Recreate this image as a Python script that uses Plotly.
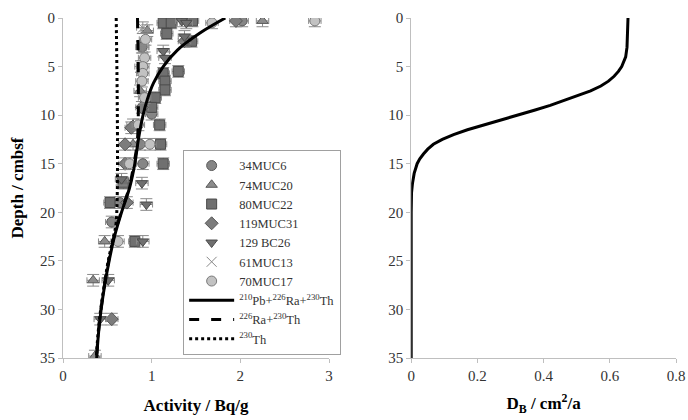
import plotly.graph_objects as go

# ---------------- data ----------------
# measured activities (Bq/g) vs depth (cm)
muc6_depth = [0.3, 3.0, 9.9, 13.0, 15.0, 19.0, 21.0]
muc6_act = [2.02, 0.89, 1.00, 0.87, 0.90, 0.64, 0.55]

muc20_depth = [0.3, 0.5, 1.3, 7.5, 11.0, 13.0, 23.0, 27.0, 34.8]
muc20_act = [2.25, 1.17, 0.95, 0.87, 0.79, 0.79, 0.47, 0.34, 0.36]

muc22_depth = [0.5, 0.5, 0.3, 1.6, 2.4, 5.5, 5.7, 6.5, 7.4, 8.2, 9.2, 11.0, 13.0, 15.0, 17.0, 19.0, 23.0]
muc22_act = [1.13, 1.22, 1.46, 1.17, 1.45, 1.30, 1.13, 1.15, 1.15, 1.04, 1.00, 1.09, 1.10, 1.13, 0.68, 0.53, 0.81]

muc31_depth = [0.3, 2.4, 9.2, 11.3, 13.0, 15.0, 19.0, 31.0]
muc31_act = [1.95, 1.37, 0.89, 0.77, 0.70, 0.70, 0.72, 0.55]

bc26_depth = [0.3, 0.5, 1.9, 3.4, 4.1, 16.6, 17.0, 19.2, 23.0, 27.0, 31.0]
bc26_act = [1.34, 1.39, 1.37, 1.13, 1.15, 0.66, 0.89, 0.94, 0.90, 0.51, 0.42]

muc13_depth = [1.0, 3.0, 5.0]
muc13_act = [0.90, 0.90, 0.88]

muc17_depth = [0.3, 0.5, 2.2, 4.1, 5.0, 5.7, 6.5, 8.2, 11.0, 13.0, 15.0, 23.0]
muc17_act = [2.84, 1.68, 0.93, 0.92, 0.90, 0.90, 0.89, 0.92, 0.85, 0.98, 0.75, 0.62]

# model curves
model_depth = [0, 1.57, 3.3, 5.0, 6.7, 8.4, 10.1, 12.5, 15, 17.5, 20, 22.5, 25, 27.5, 30, 32.5, 35]
total_act = [1.83, 1.54, 1.29, 1.13, 1.02, 0.95, 0.90, 0.85, 0.81, 0.75, 0.66, 0.58, 0.52, 0.47, 0.43, 0.40, 0.38]
ra_th_depth = [0, 12.5, 15, 17.5, 20, 22.5, 25, 27.5, 30, 32.5, 35]
ra_th_act = [0.84, 0.84, 0.80, 0.745, 0.655, 0.575, 0.515, 0.468, 0.428, 0.398, 0.378]
th_depth = [0, 21, 22.5, 25, 27.5, 30, 32.5, 35]
th_act = [0.6, 0.6, 0.57, 0.51, 0.465, 0.425, 0.395, 0.375]

# bioturbation coefficient profile
db_depth = [0, 2, 3, 4, 4.5, 5, 5.5, 6, 6.5, 7, 7.5, 8, 8.5, 9, 9.5, 10, 10.5, 11, 11.5, 12, 12.5,
            13, 13.5, 14, 14.5, 15, 16, 17, 18, 20, 25, 30, 35]
db_val = [0.655, 0.654, 0.652, 0.648, 0.643, 0.636, 0.626, 0.613, 0.596, 0.573, 0.542, 0.503, 0.463,
          0.42, 0.372, 0.322, 0.27, 0.218, 0.17, 0.128, 0.094, 0.067, 0.05, 0.037, 0.026, 0.018,
          0.009, 0.004, 0.001, 0, 0, 0, 0]

depth_ticks = [0, 5, 10, 15, 20, 25, 30, 35]
act_ticks = [0, 1, 2, 3]
db_ticks = [0, 0.2, 0.4, 0.6, 0.8]

# ---------------- figure ----------------
FONT = "Liberation Serif"
fig = go.Figure()

series = [
    ("34MUC6", muc6_depth, muc6_act, "circle", "#858585", "#5a5a5a"),
    ("74MUC20", muc20_depth, muc20_act, "triangle-up", "#8c8c8c", "#5a5a5a"),
    ("80MUC22", muc22_depth, muc22_act, "square", "#707070", "#4a4a4a"),
    ("119MUC31", muc31_depth, muc31_act, "diamond", "#7c7c7c", "#555555"),
    ("129 BC26", bc26_depth, bc26_act, "triangle-down", "#6f6f6f", "#4a4a4a"),
    ("61MUC13", muc13_depth, muc13_act, "x-thin", "#888888", "#888888"),
    ("70MUC17", muc17_depth, muc17_act, "circle", "#c2c2c2", "#7a7a7a"),
]
for name, d, a, sym, fill, edge in series:
    fig.add_trace(go.Scatter(
        x=a, y=d, mode="markers", name=name,
        marker=dict(symbol=sym, size=10, color=fill,
                    line=dict(color=edge, width=1)),
        error_x=dict(type="constant", value=0.07, color="#8a8a8a", thickness=1, width=3),
        error_y=dict(type="constant", value=0.6, color="#8a8a8a", thickness=1, width=6),
        xaxis="x", yaxis="y",
    ))

fig.add_trace(go.Scatter(
    x=total_act, y=model_depth, mode="lines", line_shape="spline",
    name="<sup>210</sup>Pb+<sup>226</sup>Ra+<sup>230</sup>Th",
    line=dict(color="black", width=3), xaxis="x", yaxis="y"))
fig.add_trace(go.Scatter(
    x=ra_th_act, y=ra_th_depth, mode="lines", line_shape="spline",
    name="<sup>226</sup>Ra+<sup>230</sup>Th",
    line=dict(color="black", width=3, dash="10px,12px"), xaxis="x", yaxis="y"))
fig.add_trace(go.Scatter(
    x=th_act, y=th_depth, mode="lines", line_shape="spline",
    name="<sup>230</sup>Th",
    line=dict(color="black", width=3, dash="dot"), xaxis="x", yaxis="y"))

fig.add_trace(go.Scatter(
    x=db_val, y=db_depth, mode="lines", showlegend=False,
    line=dict(color="black", width=3), xaxis="x2", yaxis="y2"))

axis_common = dict(
    showgrid=False, zeroline=False, showline=True, linecolor="#bfbfbf", linewidth=1,
    ticks="outside", ticklen=4, tickcolor="#bfbfbf", automargin=False,
    tickfont=dict(family=FONT, size=15, color="#333333"),
)

fig.update_layout(
    width=688, height=420,
    margin=dict(l=63, r=12, t=18, b=62),
    paper_bgcolor="white", plot_bgcolor="white",
    font=dict(family=FONT, color="black"),
    xaxis=dict(domain=[0, 0.434], range=[0, 3], tickvals=act_ticks, anchor="y",
               title=dict(text="<b>Activity / Bq/g</b>", font=dict(family=FONT, size=17), standoff=16),
               **axis_common),
    yaxis=dict(domain=[0, 1], range=[35, 0], tickvals=depth_ticks, anchor="x",
               title=dict(text="<b>Depth / cmbsf</b>", font=dict(family=FONT, size=17), standoff=12),
               **axis_common),
    xaxis2=dict(domain=[0.568, 1], range=[0, 0.8], tickvals=db_ticks, anchor="y2",
                title=dict(text="<b>D<sub>B</sub> / cm<sup>2</sup>/a</b>", font=dict(family=FONT, size=17), standoff=14),
                **axis_common),
    yaxis2=dict(domain=[0, 1], range=[35, 0], tickvals=depth_ticks, anchor="x2",
                **axis_common),
    legend=dict(x=0.196, y=0.612, xanchor="left", yanchor="top",
                bordercolor="#a0a0a0", borderwidth=1, bgcolor="white",
                font=dict(family=FONT, size=12.5, color="#333333"),
                itemwidth=45, tracegroupgap=0),
    showlegend=True,
)

fig.write_html("out.html", config={"displayModeBar": False},
               post_script="document.body.style.margin='0px';")
